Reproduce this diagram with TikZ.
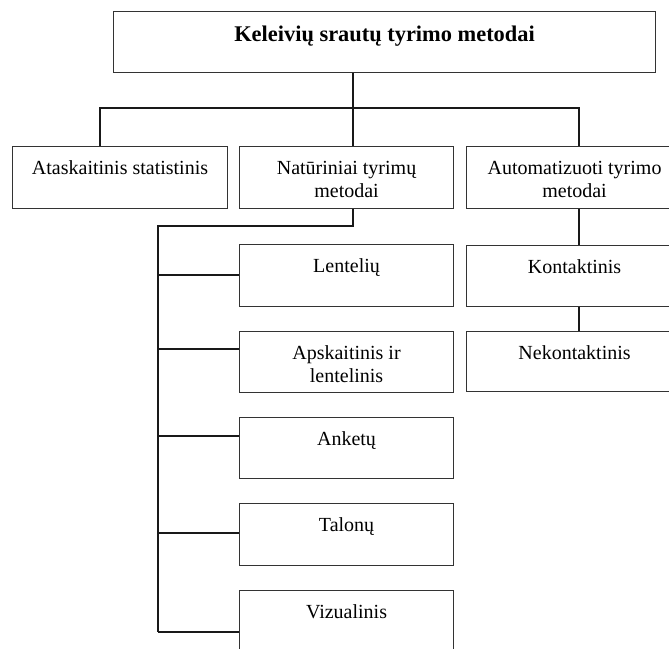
\documentclass[tikz,border=0pt]{standalone}
\usepackage{fontspec}
\setmainfont{Liberation Serif}
\newcommand\bxt[4]{\parbox[c][#2pt][t]{#1pt}{\centering\fontsize{20}{23}\selectfont\rule{0pt}{#3pt}#4\par}}
\newcommand\ttl[4]{\parbox[c][#2pt][t]{#1pt}{\centering\fontsize{22.4}{25}\selectfont\bfseries\rule{0pt}{#3pt}#4\par}}
\tikzset{
  boxnode/.style={draw=black!80, line width=1.1pt, inner sep=0pt, anchor=north west, fill=white},
  link/.style={draw=black!90, line width=1.1pt}
}
\begin{document}
\begin{tikzpicture}[x=1pt,y=-1pt]
\useasboundingbox (0,0) rectangle (669,648);
\fill[white] (0,0) rectangle (669,648);
\clip (0,0) rectangle (669,648);
% nodes
\node[boxnode] (top) at (113,11) {\ttl{542}{61}{30}{Keleivių srautų tyrimo metodai}};
\node[boxnode] (b1) at (12,146) {\bxt{215}{62}{28}{Ataskaitinis statistinis}};
\node[boxnode] (b2) at (239,146) {\bxt{214}{62}{28}{Natūriniai tyrimų\\metodai}};
\node[boxnode] (b3) at (466,146) {\bxt{216}{62}{28}{Automatizuoti tyrimo\\metodai}};
\node[boxnode] (L1) at (239,244) {\bxt{214}{62}{28}{Lentelių}};
\node[boxnode] (L2) at (239,331) {\bxt{214}{61}{28}{Apskaitinis ir\\lentelinis}};
\node[boxnode] (L3) at (239,417) {\bxt{214}{61}{28}{Anketų}};
\node[boxnode] (L4) at (239,503) {\bxt{214}{62}{28}{Talonų}};
\node[boxnode] (L5) at (239,590) {\bxt{214}{62}{28}{Vizualinis}};
\node[boxnode] (R1) at (466,245) {\bxt{216}{61}{28}{Kontaktinis}};
\node[boxnode] (R2) at (466,331) {\bxt{216}{60}{28}{Nekontaktinis}};
% junction coordinates
\coordinate (j0) at (353,108);
\coordinate (jL) at (100,108);
\coordinate (jR) at (579,108);
\coordinate (tt) at (158,226);
\coordinate (tb) at (158,632);
\coordinate (k1) at (158,275);
\coordinate (k2) at (158,349);
\coordinate (k3) at (158,436);
\coordinate (k4) at (158,533);
\coordinate (k5) at (158,632);
% connectors
\draw[link] (top.south -| j0) -- (j0);
\draw[link] (b1.north -| jL) -- (jL) -- (jR) -- (b3.north -| jR);
\draw[link] (j0) -- (b2.north -| j0);
\draw[link] (b2.south -| j0) |- (tt) -- (tb);
\draw[link] (k1) -- (k1 -| L1.west);
\draw[link] (k2) -- (k2 -| L2.west);
\draw[link] (k3) -- (k3 -| L3.west);
\draw[link] (k4) -- (k4 -| L4.west);
\draw[link] (k5) -- (k5 -| L5.west);
\draw[link] (b3.south -| jR) -- (R1.north -| jR);
\draw[link] (R1.south -| jR) -- (R2.north -| jR);
\end{tikzpicture}
\end{document}
